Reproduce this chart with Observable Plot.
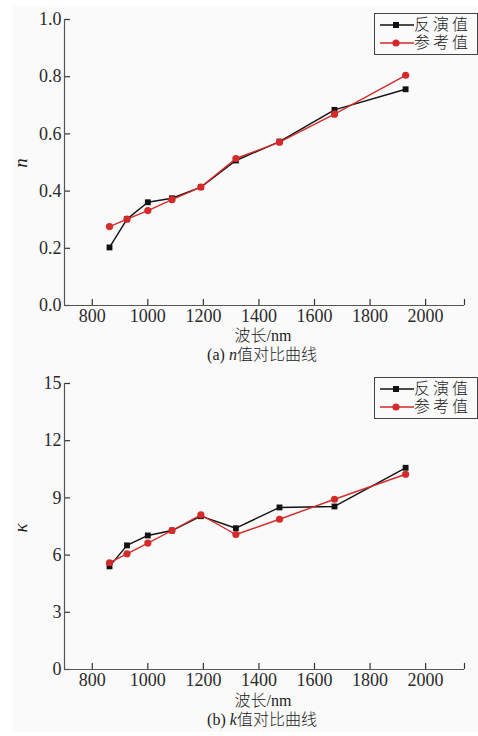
<!DOCTYPE html>
<html>
<head>
<meta charset="utf-8">
<script src="https://cdn.jsdelivr.net/npm/d3@7"></script>
<script src="https://cdn.jsdelivr.net/npm/@observablehq/plot@0.6"></script>
<style>
  html, body { margin: 0; padding: 0; background: #ffffff; }
  #wrap { position: relative; width: 478px; height: 736px; overflow: hidden; }
  #bg { position: absolute; left: 13px; top: 6px; width: 465px; height: 726px; background: #fafafa; }
  .abs { position: absolute; }
  .txt { font-family: "Liberation Serif", "Noto Sans CJK SC", serif; color: #222; white-space: nowrap; font-weight: 300; }
  .legend { position: absolute; border: 1px solid #444; background: #fafafa; box-sizing: border-box;
            font-family: "Liberation Serif", "Noto Sans CJK SC", serif; font-size: 16px; color: #222; font-weight: 300; }
  .row { position: absolute; left: 0; height: 18px; width: 100%; }
  .row svg { position: absolute; left: 5px; top: 0; }
  .row span { position: absolute; left: 39px; top: 0px; line-height: 18px; letter-spacing: 3px; }
  .plot-text text { font-family: "Liberation Serif", serif; }
</style>
</head>
<body>
<div id="wrap">
  <div id="bg"></div>
</div>
<script>
// ---- data ----
const wavelength = [862, 925, 1000, 1087, 1191, 1317, 1474, 1672, 1928];
const nInverted  = [0.203, 0.302, 0.361, 0.375, 0.414, 0.507, 0.573, 0.684, 0.756];
const nReference = [0.276, 0.302, 0.332, 0.370, 0.414, 0.514, 0.571, 0.669, 0.805];
const kInverted  = [5.41, 6.51, 7.03, 7.29, 8.04, 7.41, 8.50, 8.55, 10.58];
const kReference = [5.60, 6.07, 6.63, 7.29, 8.11, 7.08, 7.88, 8.93, 10.24];
const seriesNames = ["反演值", "参考值"];
const xTicks = [800, 1000, 1200, 1400, 1600, 1800, 2000];
const xDomain = [700, 2140];
const nTicks = [0, 0.2, 0.4, 0.6, 0.8, 1.0];
const kTicks = [0, 3, 6, 9, 12, 15];

const black = "#111111";
const red = "#d42a2a";
const axisColor = "#555555";
const W = 478, ML = 64, MR = 14;
const plotW = W - ML - MR;
const plotH = 286;

function makeChart({inv, ref, yTicks, yFormat, top, height, marginTop, marginBottom}) {
  const dInv = wavelength.map((x, i) => ({x, y: inv[i]}));
  const dRef = wavelength.map((x, i) => ({x, y: ref[i]}));
  const svg = Plot.plot({
    width: W,
    height,
    marginLeft: ML,
    marginRight: MR,
    marginTop,
    marginBottom,
    className: "plot-text",
    style: {background: "transparent", fontFamily: "'Liberation Serif', serif", fontSize: "18px", color: "#2a2a2a", overflow: "visible"},
    x: {domain: xDomain, ticks: xTicks, tickSize: 0, tickPadding: 4, label: null, tickFormat: d => String(d)},
    y: {domain: [yTicks[0], yTicks[yTicks.length - 1]], ticks: yTicks, tickSize: 0, tickPadding: 3, label: null, tickFormat: yFormat},
    marks: [
      Plot.tickY(yTicks, {y: d => d, stroke: "#333", strokeWidth: 1.2, insetRight: plotW - 6}),
      Plot.tickX(xTicks.concat([xDomain[1]]), {x: d => d, stroke: "#333", strokeWidth: 1.2, insetTop: plotH - 6}),
      Plot.ruleX([xDomain[0]], {stroke: axisColor, strokeWidth: 1.2}),
      Plot.ruleY([yTicks[0]], {stroke: axisColor, strokeWidth: 1.2}),
      Plot.line(dInv, {x: "x", y: "y", stroke: black, strokeWidth: 1.4}),
      Plot.dot(dInv, {x: "x", y: "y", symbol: "square", r: 3.3, fill: black, stroke: "none"}),
      Plot.line(dRef, {x: "x", y: "y", stroke: red, strokeWidth: 1.4}),
      Plot.dot(dRef, {x: "x", y: "y", symbol: "circle", r: 3.6, fill: red, stroke: "none"})
    ]
  });
  svg.style.position = "absolute";
  svg.style.left = "0px";
  svg.style.top = top + "px";
  return svg;
}

const wrap = document.getElementById("wrap");

function addText(html, cx, cy, size, extra = "") {
  const d = document.createElement("div");
  d.className = "abs txt";
  d.style.fontSize = size + "px";
  d.style.lineHeight = size + "px";
  d.style.left = cx + "px";
  d.style.top = cy + "px";
  d.style.transform = "translate(-50%, -50%) " + extra;
  d.innerHTML = html;
  wrap.appendChild(d);
}

function addLegend(top) {
  const lg = document.createElement("div");
  lg.className = "legend";
  lg.style.left = "374px";
  lg.style.top = top + "px";
  lg.style.width = "104px";
  lg.style.height = "42px";
  const rows = [
    {name: seriesNames[0], color: black, shape: "square"},
    {name: seriesNames[1], color: red, shape: "circle"}
  ];
  rows.forEach((r, i) => {
    const row = document.createElement("div");
    row.className = "row";
    row.style.top = (2 + i * 18) + "px";
    const mk = r.shape === "square"
      ? `<rect x="${16 - 3}" y="${9 - 3}" width="6" height="6" fill="${r.color}"/>`
      : `<circle cx="16" cy="9" r="3.6" fill="${r.color}"/>`;
    row.innerHTML = `<svg width="34" height="18"><line x1="0" y1="9" x2="34" y2="9" stroke="${r.color}" stroke-width="1.4"/>${mk}</svg><span>${r.name}</span>`;
    lg.appendChild(row);
  });
  wrap.appendChild(lg);
}

// top chart (n)
wrap.appendChild(makeChart({inv: nInverted, ref: nReference, yTicks: nTicks, yFormat: d3.format(".1f"),
  top: 0, height: 345, marginTop: 19, marginBottom: 40}));
addText("<i>n</i>", 20, 163, 19, "rotate(-90deg)");
addText("波长/nm", 263, 336, 16);
addText("(a) <i>n</i>值对比曲线", 262, 355, 16);
addLegend(13);

// bottom chart (k)
wrap.appendChild(makeChart({inv: kInverted, ref: kReference, yTicks: kTicks, yFormat: d => String(d),
  top: 362, height: 347, marginTop: 21, marginBottom: 40}));
addText("<i>κ</i>", 20, 528, 19, "rotate(-90deg)");
addText("波长/nm", 263, 701, 16);
addText("(b) <i>k</i>值对比曲线", 262, 720, 16);
addLegend(377);
</script>
</body>
</html>
